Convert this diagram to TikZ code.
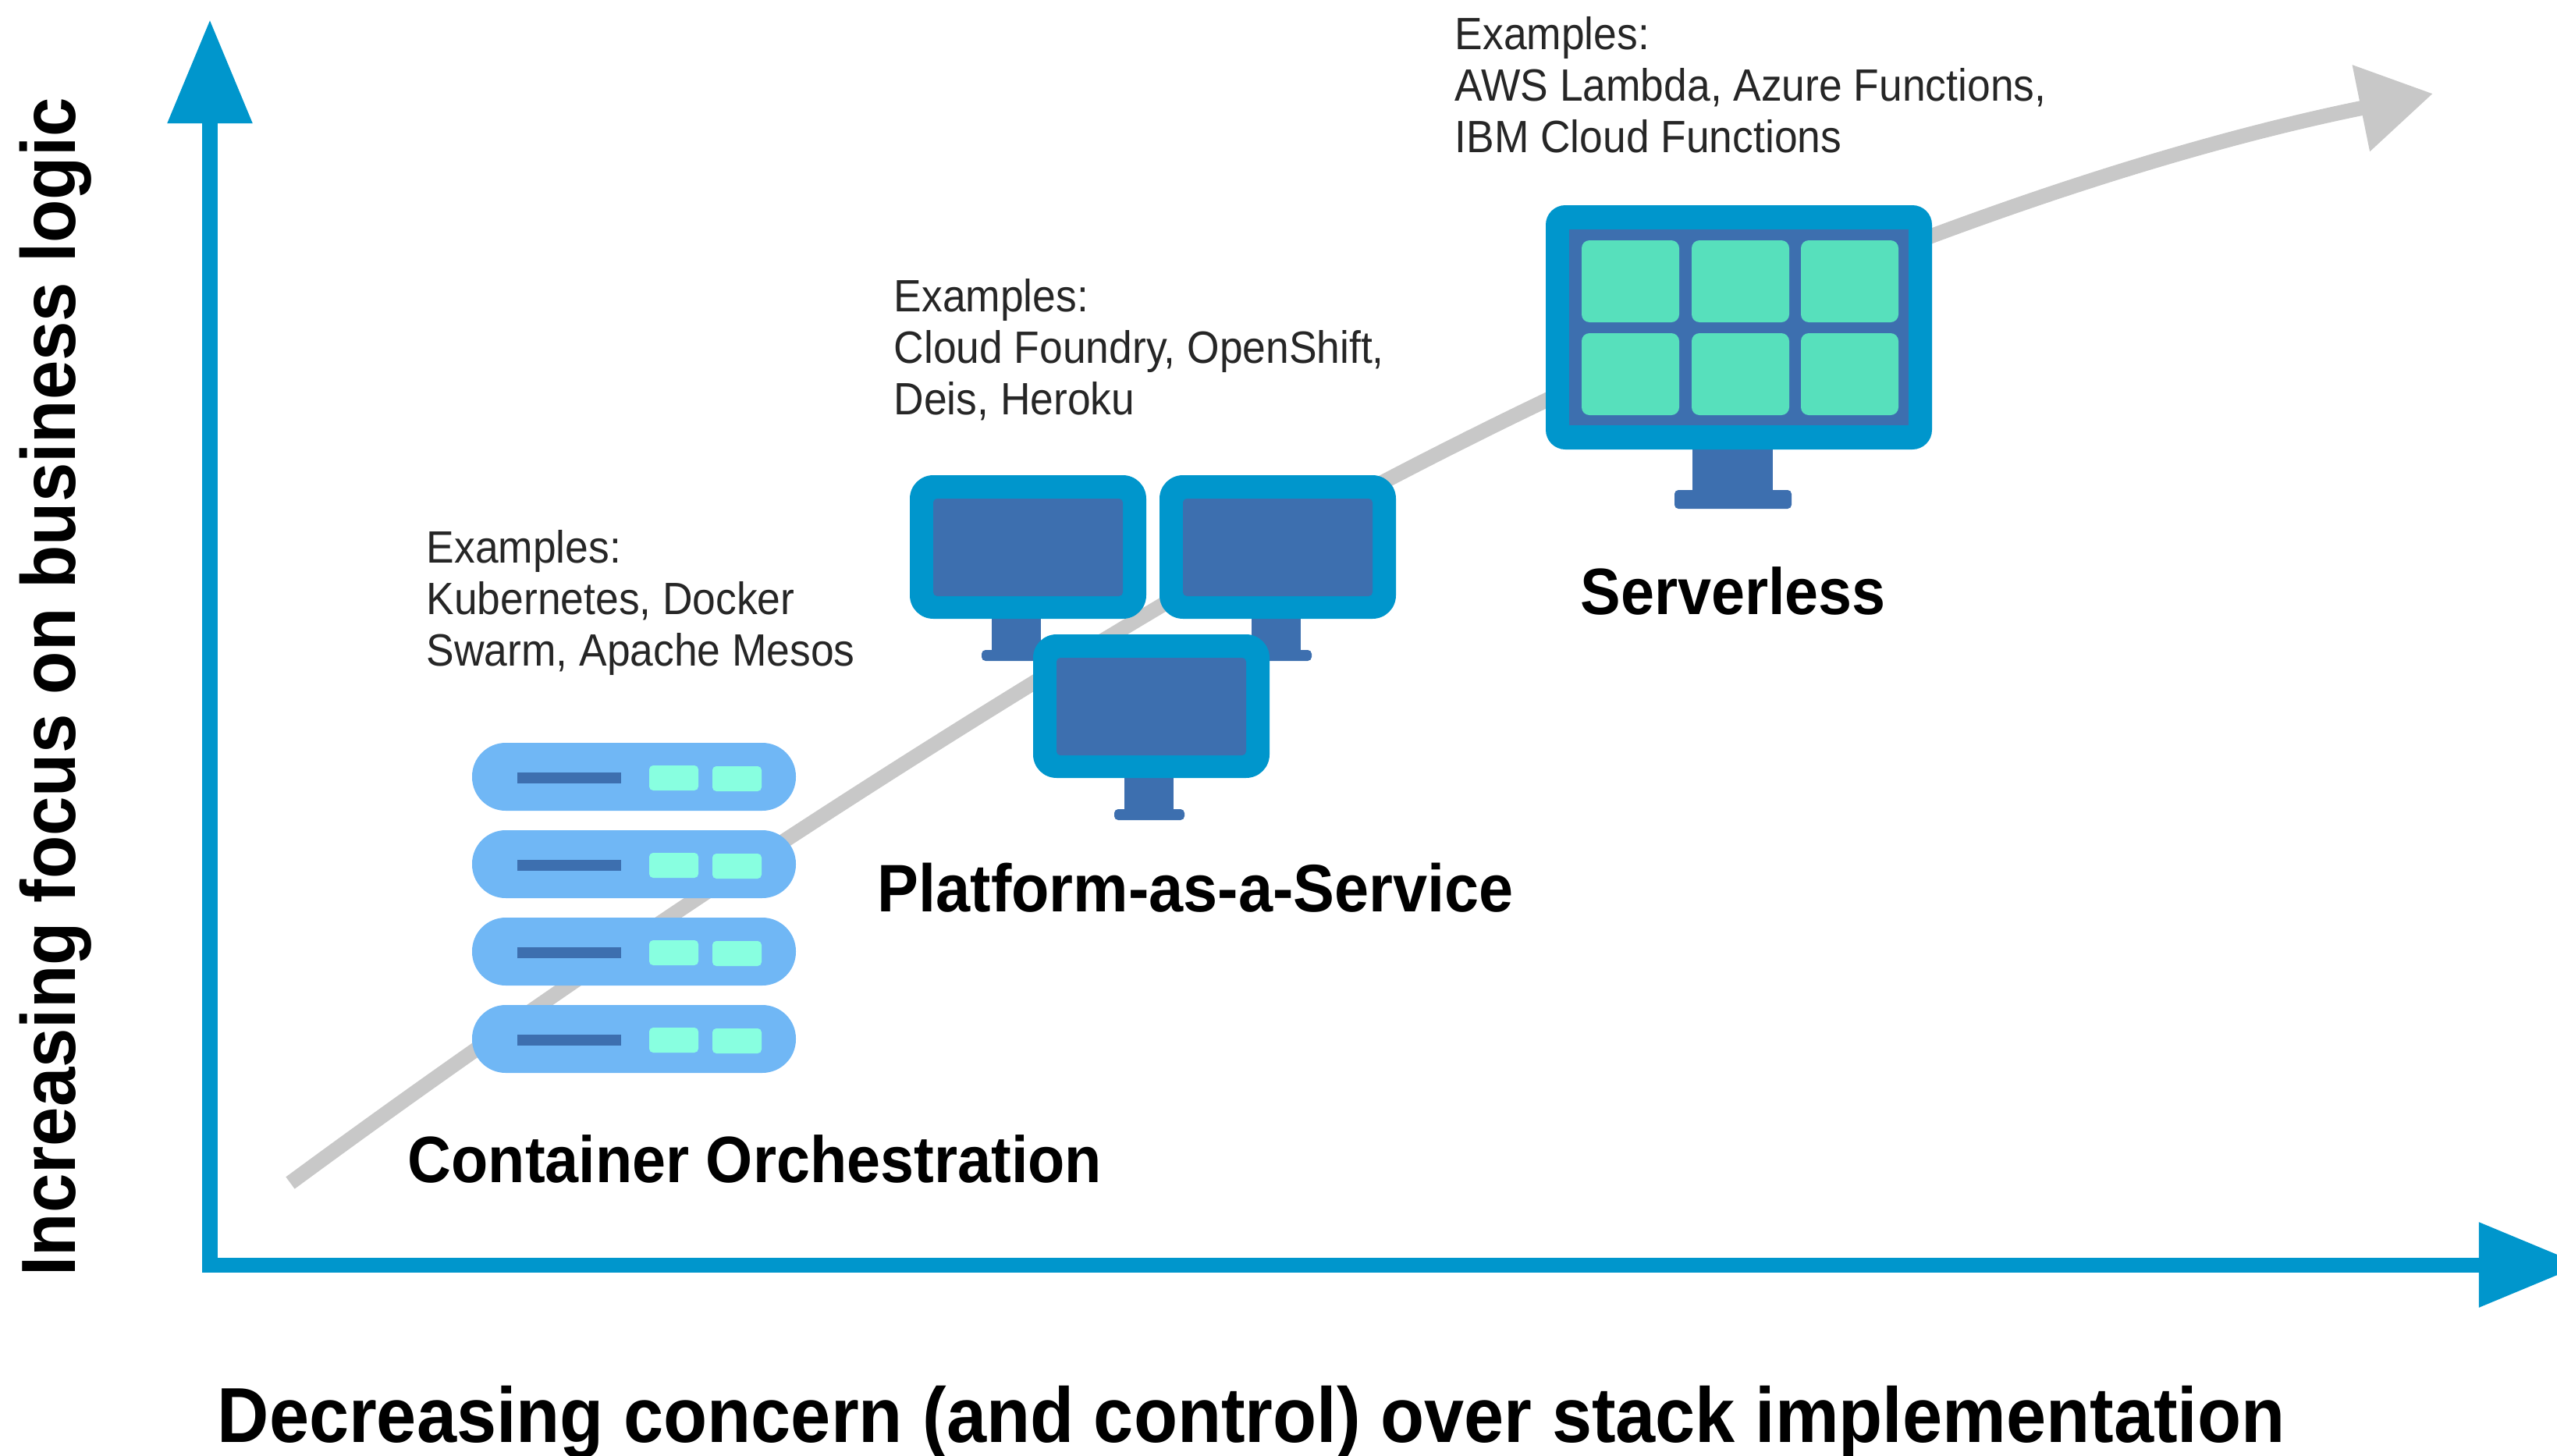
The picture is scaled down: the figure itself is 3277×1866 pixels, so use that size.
\documentclass[tikz,border=0pt]{standalone}
\usepackage{fontspec}
\setmainfont{Liberation Sans}[FakeStretch=0.92]
\usetikzlibrary{arrows.meta}
\definecolor{axisblue}{RGB}{0,150,204}
\definecolor{screenblue}{RGB}{61,111,175}
\definecolor{cellgreen}{RGB}{87,224,188}
\definecolor{rackblue}{RGB}{112,183,245}
\definecolor{lightgreen}{RGB}{136,255,224}
\definecolor{trendgray}{RGB}{200,200,200}
\tikzset{
	axisline/.style={axisblue, line width=0.19cm, line join=miter, {Triangle[length=1.33cm,width=1.04cm]}-{Triangle[length=1.33cm,width=1.04cm]}},
	trendline/.style={trendgray, line width=0.19cm, -{Triangle[length=0.94cm,width=1.08cm]}},
	frame/.style={axisblue, rounded corners=0.3cm},
	panel/.style={screenblue, rounded corners=0.05cm},
	cell/.style={cellgreen, rounded corners=0.1cm},
	heading/.style={inner sep=0, anchor=base west, font=\bfseries\fontsize{23.9}{28}\selectfont},
	axislabel/.style={inner sep=0, anchor=base west, font=\bfseries\fontsize{28.4}{32}\selectfont},
	examples/.style={inner sep=0, anchor=north west, align=left, text=black!85, font=\fontsize{16.5}{18.8}\selectfont},
}
\begin{document}
\begin{tikzpicture}[x=0.01cm, y=-0.01cm]
	\useasboundingbox (0,0) rectangle (3277,1866);
	\clip (0,0) rectangle (3277,1866);
	\coordinate (ytip) at (269,25);
	\coordinate (corner) at (269,1621);
	\coordinate (xtip) at (3310,1621);
	\coordinate (trendstart) at (372,1516);
	\coordinate (trendmid) at (1465,790);
	\coordinate (trendtip) at (3118,120);
	% trend behind the icons
	\draw[trendline] (trendstart) .. controls (740,1245) and (1130,990) .. (trendmid) .. controls (2000,470) and (2600,225) .. (trendtip);
	\draw[axisline] (ytip) -- (corner) -- (xtip);
	% container orchestration
	\pgfmathsetmacro{\rackpitch}{112}
	\foreach \i in {0,...,3} {
		\pgfmathsetmacro{\racky}{952+\i*\rackpitch}
		\fill[rackblue, rounded corners=0.43cm] (605,\racky) rectangle ++(415,87);
		\fill[screenblue] (663,\racky+38) rectangle ++(133,14);
		\fill[lightgreen, rounded corners=0.05cm] (832,\racky+29) rectangle ++(63,32);
		\fill[lightgreen, rounded corners=0.05cm] (913,\racky+30) rectangle ++(63,32);
	}
	% platform monitors
	\foreach \mx/\my/\sx in {1166/609/1271, 1486/609/1604, 1324/813/1441} {
		\fill[screenblue] (\sx,\my+180) rectangle ++(63,46);
		\fill[screenblue, rounded corners=0.05cm] (\sx-13,\my+224) rectangle ++(90,14);
		\fill[frame] (\mx,\my) rectangle ++(303,184);
		\fill[panel] (\mx+30,\my+30) rectangle ++(243,125);
	}
	% serverless monitor
	\fill[screenblue] (2169,570) rectangle (2272,640);
	\fill[screenblue, rounded corners=0.05cm] (2146,628) rectangle (2296,652);
	\fill[frame, rounded corners=0.25cm] (1981,263) rectangle (2476,576);
	\fill[screenblue] (2011,294) rectangle (2446,545);
	\foreach \cx in {2027,2168,2308} {
		\foreach \cy in {308,427} {
			\fill[cell] (\cx,\cy) rectangle ++(125,105);
		}
	}
	\node[examples] (containerexamples) at (546,679) {Examples:\\Kubernetes, Docker\\Swarm, Apache Mesos};
	\node[examples] (platformexamples) at (1145,357) {Examples:\\Cloud Foundry, OpenShift,\\Deis, Heroku};
	\node[examples] (serverlessexamples) at (1864,21) {Examples:\\AWS Lambda, Azure Functions,\\IBM Cloud Functions};
	\node[heading] (container) at (522,1515) {Container Orchestration};
	\node[heading, font=\bfseries\fontsize{24.5}{28}\selectfont] (platform) at (1124,1168) {Platform-as-a-Service};
	\node[heading] (serverless) at (2025,787) {Serverless};
	\node[axislabel] (xlabel) at (278,1848) {Decreasing concern (and control) over stack implementation};
	\node[axislabel, rotate=90, font=\bfseries\fontsize{28}{32}\selectfont] (ylabel) at (96,1636) {Increasing focus on business logic};
\end{tikzpicture}
\end{document}
